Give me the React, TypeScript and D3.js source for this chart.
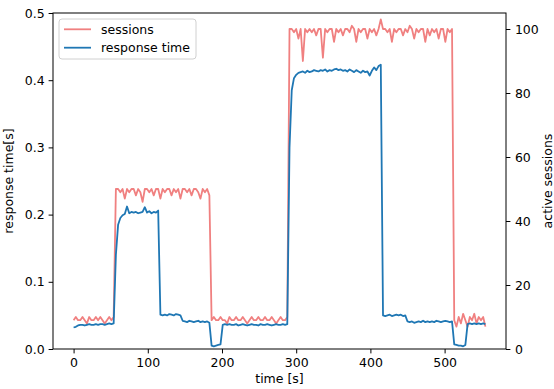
import React, { useEffect, useRef } from 'react';
import * as d3 from 'd3';

// sampled every STEP seconds, starting at t = 0
const STEP = 3;

const sessions = [
  9, 10, 9, 9, 10, 9, 8, 10, 9, 9,
  10, 9, 10, 9, 8, 9, 10, 9, 10, 50,
  50, 49, 50, 47, 50, 49, 50, 50, 48, 50,
  49, 46, 50, 50, 49, 50, 48, 50, 50, 47,
  50, 49, 50, 50, 48, 50, 49, 50, 47, 50,
  50, 49, 50, 48, 50, 50, 49, 47, 50, 49,
  50, 48, 9, 10, 9, 9, 10, 9, 9, 8,
  10, 9, 9, 10, 9, 9, 10, 9, 8, 9,
  10, 9, 9, 10, 9, 9, 10, 9, 9, 10,
  9, 8, 9, 10, 9, 9, 10, 100, 100, 99,
  100, 97, 100, 90, 100, 99, 100, 99, 100, 98,
  100, 100, 91, 100, 99, 100, 100, 96, 100, 99,
  100, 98, 100, 100, 99, 101, 100, 96, 100, 99,
  100, 100, 97, 100, 99, 100, 98, 100, 103, 100,
  100, 99, 100, 96, 100, 99, 100, 100, 98, 100,
  99, 101, 100, 97, 100, 99, 100, 100, 96, 100,
  98, 100, 99, 100, 97, 100, 100, 96, 100, 99,
  100, 9, 7, 10, 8, 11, 9, 7, 10, 9,
  11, 8, 10, 9, 10, 7,
];

const responseTime = [
  0.032, 0.033, 0.035, 0.036, 0.036, 0.035, 0.036, 0.037, 0.036, 0.036,
  0.037, 0.036, 0.037, 0.037, 0.036, 0.037, 0.038, 0.037, 0.038, 0.14,
  0.185, 0.195, 0.199, 0.201, 0.212, 0.202, 0.204, 0.203, 0.204, 0.202,
  0.203, 0.204, 0.211, 0.203, 0.205, 0.202, 0.204, 0.203, 0.206, 0.051,
  0.050, 0.051, 0.050, 0.052, 0.051, 0.050, 0.052, 0.051, 0.050, 0.042,
  0.041, 0.040, 0.042, 0.041, 0.040, 0.041, 0.042, 0.040, 0.041, 0.040,
  0.041, 0.039, 0.005, 0.004, 0.005, 0.006, 0.007, 0.036, 0.037, 0.036,
  0.037, 0.036, 0.036, 0.037, 0.035, 0.036, 0.037, 0.036, 0.035, 0.036,
  0.037, 0.036, 0.036, 0.035, 0.037, 0.036, 0.036, 0.037, 0.036, 0.035,
  0.036, 0.037, 0.036, 0.036, 0.037, 0.036, 0.037, 0.30, 0.385, 0.403,
  0.408, 0.411, 0.412, 0.413, 0.411, 0.414, 0.412, 0.413, 0.415, 0.414,
  0.413, 0.415, 0.414, 0.416, 0.413, 0.415, 0.414, 0.416, 0.417, 0.415,
  0.416, 0.414, 0.415, 0.413, 0.416, 0.414, 0.412, 0.415, 0.413, 0.411,
  0.414, 0.412, 0.413, 0.407, 0.414, 0.419, 0.415, 0.421, 0.423, 0.050,
  0.049, 0.050, 0.051, 0.049, 0.050, 0.051, 0.050, 0.051, 0.049, 0.050,
  0.041, 0.040, 0.041, 0.039, 0.040, 0.041, 0.040, 0.042, 0.040, 0.041,
  0.040, 0.041, 0.040, 0.042, 0.041, 0.040, 0.041, 0.042, 0.041, 0.040,
  0.041, 0.007, 0.006, 0.005, 0.005, 0.004, 0.006, 0.037, 0.038, 0.037,
  0.038, 0.037, 0.038, 0.037, 0.038, 0.037,
];

const xTicks = [0, 100, 200, 300, 400, 500];
const leftTicks = [0, 0.1, 0.2, 0.3, 0.4, 0.5];
const rightTicks = [0, 20, 40, 60, 80, 100];

const PINK = '#f08080';
const BLUE = '#1f77b4';
const FONT = 'DejaVu Sans, sans-serif';
const FS = '12.5px';

const App: React.FC = () => {
  const svgRef = useRef<SVGSVGElement>(null);
  const width = 554;
  const height = 389;

  useEffect(() => {
    if (!svgRef.current) return;
    const svg = d3.select(svgRef.current);
    svg.selectAll('*').remove();

    const left = 53, right = 506, top = 13, bottom = 349;

    const x = d3.scaleLinear().domain([-27.75, 582.75]).range([left, right]);
    const yL = d3.scaleLinear().domain([0, 0.5]).range([bottom, top]);
    const yR = d3.scaleLinear().domain([0, 105]).range([bottom, top]);

    svg.append('rect')
      .attr('width', width).attr('height', height).attr('fill', '#fff');

    // lines
    const sessionLine = d3.line<number>()
      .x((d, i) => x(i * STEP))
      .y(d => yR(d));
    const rtLine = d3.line<number>()
      .x((d, i) => x(i * STEP))
      .y(d => yL(d));

    svg.append('path')
      .datum(sessions)
      .attr('d', sessionLine)
      .attr('fill', 'none')
      .attr('stroke', PINK)
      .attr('stroke-width', 1.8)
      .attr('stroke-linejoin', 'round');

    svg.append('path')
      .datum(responseTime)
      .attr('d', rtLine)
      .attr('fill', 'none')
      .attr('stroke', BLUE)
      .attr('stroke-width', 1.8)
      .attr('stroke-linejoin', 'round');

    // axes
    const styleAxis = (g: d3.Selection<SVGGElement, unknown, null, undefined>) => {
      g.select('.domain').remove();
      g.selectAll('.tick line').attr('stroke', '#000').attr('stroke-width', 1);
      g.selectAll('.tick text')
        .attr('fill', '#000')
        .style('font-family', FONT)
        .style('font-size', FS);
    };

    svg.append('g')
      .attr('transform', `translate(0,${bottom})`)
      .call(d3.axisBottom(x).tickValues(xTicks).tickSize(4.4).tickPadding(5))
      .call(styleAxis);

    svg.append('g')
      .attr('transform', `translate(${left},0)`)
      .call(d3.axisLeft(yL).tickValues(leftTicks).tickFormat(d3.format('.1f')).tickSize(4.4).tickPadding(4))
      .call(styleAxis);

    svg.append('g')
      .attr('transform', `translate(${right},0)`)
      .call(d3.axisRight(yR).tickValues(rightTicks).tickFormat(d3.format('d')).tickSize(4.4).tickPadding(4.5))
      .call(styleAxis);

    // frame
    svg.append('rect')
      .attr('x', left).attr('y', top)
      .attr('width', right - left).attr('height', bottom - top)
      .attr('fill', 'none')
      .attr('stroke', '#000')
      .attr('stroke-width', 1);

    // axis labels
    svg.append('text')
      .attr('x', (left + right) / 2).attr('y', 383)
      .attr('text-anchor', 'middle')
      .style('font-family', FONT).style('font-size', FS)
      .text('time [s]');

    svg.append('text')
      .attr('transform', `translate(13,${(top + bottom) / 2}) rotate(-90)`)
      .attr('text-anchor', 'middle')
      .style('font-family', FONT).style('font-size', FS)
      .text('response time[s]');

    svg.append('text')
      .attr('transform', `translate(552,${(top + bottom) / 2}) rotate(-90)`)
      .attr('text-anchor', 'middle')
      .style('font-family', FONT).style('font-size', FS)
      .text('active sessions');

    // legend
    const legend = svg.append('g').attr('transform', 'translate(59,19)');
    legend.append('rect')
      .attr('width', 137).attr('height', 40).attr('rx', 3)
      .attr('fill', '#fff').attr('fill-opacity', 0.8)
      .attr('stroke', '#d0d0d0').attr('stroke-width', 1);
    const items = [
      { label: 'sessions', color: PINK },
      { label: 'response time', color: BLUE },
    ];
    items.forEach((it, i) => {
      const yy = 10.3 + i * 18.4;
      legend.append('line')
        .attr('x1', 5).attr('x2', 32).attr('y1', yy).attr('y2', yy)
        .attr('stroke', it.color).attr('stroke-width', 1.8);
      legend.append('text')
        .attr('x', 42).attr('y', yy + 4.3)
        .style('font-family', FONT).style('font-size', FS)
        .text(it.label);
    });
  }, []);

  return (
    <svg
      ref={svgRef}
      width={width}
      height={height}
      style={{ position: 'absolute', left: 0, top: 0, display: 'block' }}
    />
  );
};

export default App;
